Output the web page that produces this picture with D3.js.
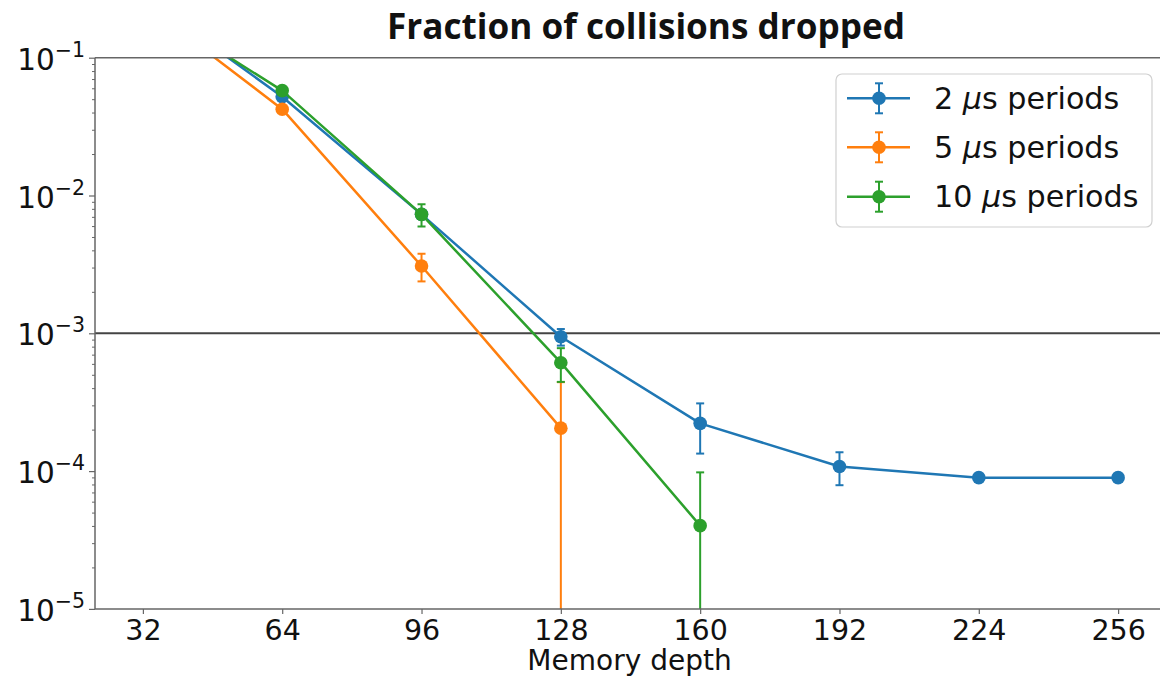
<!DOCTYPE html>
<html><head><meta charset="utf-8">
<script src="https://cdn.jsdelivr.net/npm/d3@7"></script>
<style>body{margin:0;background:#fff}</style>
</head><body><svg id="c" width="1160" height="678"></svg>
<script>
// ---- data ----
const titleText = "Fraction of collisions dropped";
const xLabelText = "Memory depth";
const xTickValues = [32, 64, 96, 128, 160, 192, 224, 256];
const yTickExponents = [-1, -2, -3, -4, -5];
const thresholdValue = 1e-3;

const blueDepths = [32, 64, 96, 128, 160, 192, 224, 256];
const blueVals   = [0.28, 0.0521, 0.0073, 0.000944, 0.000222, 0.000108, 0.0000896, 0.0000896];
const blueErr    = [0.01, 0.002, 0.0005, 0.00013, 0.000088, 0.000029, 0.000004, 0.000004];

const orangeDepths = [32, 64, 96, 128];
const orangeVals   = [0.25, 0.0423, 0.00308, 0.000205];
const orangeErr    = [0.01, 0.0015, 0.0007, 0.000237];

const greenDepths = [32, 64, 96, 128, 160];
const greenVals   = [0.25, 0.0577, 0.0073, 0.000612, 0.0000402];
const greenErr    = [0.01, 0.002, 0.00135, 0.000168, 0.0000577];

const seriesLabels = ["2", "5", "10"];
const seriesColors = ["#1f77b4", "#ff7f0e", "#2ca02c"];

// ---- layout ----
const svg = d3.select("#c");
const L = 95, R = 1166, T = 57.7, B = 608.9;
const x = d3.scaleLinear().domain([21, 267]).range([L, R]);
const y = d3.scaleLog().domain([1e-5, 1e-1]).range([B, T]);
const FONT = "'DejaVu Sans', sans-serif";

svg.append("defs").append("clipPath").attr("id", "clip")
  .append("rect").attr("x", L).attr("y", T).attr("width", R - L).attr("height", B - T);

// title
const title = svg.append("text").attr("x", 646).attr("y", 38.5)
  .attr("text-anchor", "middle").attr("font-family", "'Open Sans', sans-serif")
  .attr("font-weight", "bold").attr("font-size", 100).attr("fill", "#111").text(titleText);
const tw = title.node().getComputedTextLength();
title.attr("font-size", Math.min(36, 100 * 518 / tw));

// threshold line
svg.append("line").attr("x1", L).attr("x2", R)
  .attr("y1", y(thresholdValue)).attr("y2", y(thresholdValue))
  .attr("stroke", "#444").attr("stroke-width", 2);

// series
const series = [
  {d: blueDepths, v: blueVals, e: blueErr, c: seriesColors[0]},
  {d: orangeDepths, v: orangeVals, e: orangeErr, c: seriesColors[1]},
  {d: greenDepths, v: greenVals, e: greenErr, c: seriesColors[2]}
];
const plot = svg.append("g").attr("clip-path", "url(#clip)");
const line = d3.line().x(p => x(p.d)).y(p => y(p.v));
series.forEach(s => {
  const pts = s.d.map((d, i) => ({d, v: s.v[i], e: s.e[i]}));
  const g = plot.append("g");
  g.append("path").datum(pts).attr("d", line).attr("fill", "none")
    .attr("stroke", s.c).attr("stroke-width", 2.5).attr("stroke-linejoin", "round");
  pts.forEach(p => {
    const hi = y(p.v + p.e);
    const loV = p.v - p.e;
    const lo = loV > 0 ? y(loV) : B + 50;
    const cx = x(p.d);
    g.append("line").attr("x1", cx).attr("x2", cx).attr("y1", hi).attr("y2", lo)
      .attr("stroke", s.c).attr("stroke-width", 2);
    g.append("line").attr("x1", cx - 4).attr("x2", cx + 4).attr("y1", hi).attr("y2", hi)
      .attr("stroke", s.c).attr("stroke-width", 2);
    if (loV > 0) g.append("line").attr("x1", cx - 4).attr("x2", cx + 4).attr("y1", lo).attr("y2", lo)
      .attr("stroke", s.c).attr("stroke-width", 2);
  });
  g.selectAll("circle").data(pts).join("circle")
    .attr("cx", p => x(p.d)).attr("cy", p => y(p.v)).attr("r", 6.8).attr("fill", s.c);
});

// spines
const spineColor = "#666";
[[L, T, L, B], [L, B, R, B], [L, T, R, T], [R, T, R, B]].forEach(a =>
  svg.append("line").attr("x1", a[0]).attr("y1", a[1]).attr("x2", a[2]).attr("y2", a[3])
    .attr("stroke", spineColor).attr("stroke-width", 1.5));

// x axis
const xAxis = svg.append("g").attr("transform", `translate(0,${B})`)
  .call(d3.axisBottom(x).tickValues(xTickValues).tickSize(5).tickPadding(6).tickFormat(d3.format("d")));
xAxis.select(".domain").remove();
xAxis.selectAll(".tick line").attr("stroke", spineColor).attr("stroke-width", 1.2);
xAxis.selectAll(".tick text").attr("font-family", FONT).attr("font-size", 28.5).attr("fill", "#111");

svg.append("text").attr("x", 629.5).attr("y", 670).attr("text-anchor", "middle")
  .attr("font-family", FONT).attr("font-size", 28).attr("fill", "#111").text(xLabelText);

// y axis major ticks
const majors = yTickExponents.map(e => Math.pow(10, e));
const yAxis = svg.append("g").attr("transform", `translate(${L},0)`)
  .call(d3.axisLeft(y).tickValues(majors).tickSize(6).tickFormat(""));
yAxis.select(".domain").remove();
yAxis.selectAll(".tick line").attr("stroke", spineColor).attr("stroke-width", 1.2);
// minor ticks
const minors = [];
yTickExponents.slice(1).forEach(e => { for (let k = 2; k <= 9; k++) minors.push(k * Math.pow(10, e)); });
const yMinor = svg.append("g").attr("transform", `translate(${L},0)`)
  .call(d3.axisLeft(y).tickValues(minors).tickSize(3).tickFormat(""));
yMinor.select(".domain").remove();
yMinor.selectAll(".tick line").attr("stroke", spineColor).attr("stroke-width", 1);

// y labels 10^e
yTickExponents.forEach(e => {
  const t = svg.append("text").attr("x", 85).attr("y", y(Math.pow(10, e)) + 12)
    .attr("text-anchor", "end").attr("font-family", FONT).attr("font-size", 29.5).attr("fill", "#111");
  t.append("tspan").text("10");
  t.append("tspan").attr("font-size", 20.5).attr("dy", -13).text("\u2212" + Math.abs(e));
});

// legend
const lg = svg.append("g");
lg.append("rect").attr("x", 836).attr("y", 74).attr("width", 316).attr("height", 153)
  .attr("rx", 6).attr("fill", "#fff").attr("fill-opacity", 0.8).attr("stroke", "#d0d0d0").attr("stroke-width", 1.2);
const rowY = [98.3, 147.3, 196.7];
seriesLabels.forEach((lab, i) => {
  const cy = rowY[i], c = seriesColors[i];
  lg.append("line").attr("x1", 847).attr("x2", 910).attr("y1", cy).attr("y2", cy).attr("stroke", c).attr("stroke-width", 2.5);
  lg.append("line").attr("x1", 879).attr("x2", 879).attr("y1", cy - 15).attr("y2", cy + 15).attr("stroke", c).attr("stroke-width", 2);
  [cy - 15, cy + 15].forEach(yy => lg.append("line").attr("x1", 875).attr("x2", 883).attr("y1", yy).attr("y2", yy).attr("stroke", c).attr("stroke-width", 2));
  lg.append("circle").attr("cx", 879).attr("cy", cy).attr("r", 6.8).attr("fill", c);
  const t = lg.append("text").attr("x", 934).attr("y", cy + 10.5)
    .attr("font-family", FONT).attr("font-size", 30.2).attr("fill", "#111");
  t.append("tspan").text(lab + " ");
  t.append("tspan").attr("font-style", "italic").text("\u03bc");
  t.append("tspan").text("s periods");
});
</script></body></html>
